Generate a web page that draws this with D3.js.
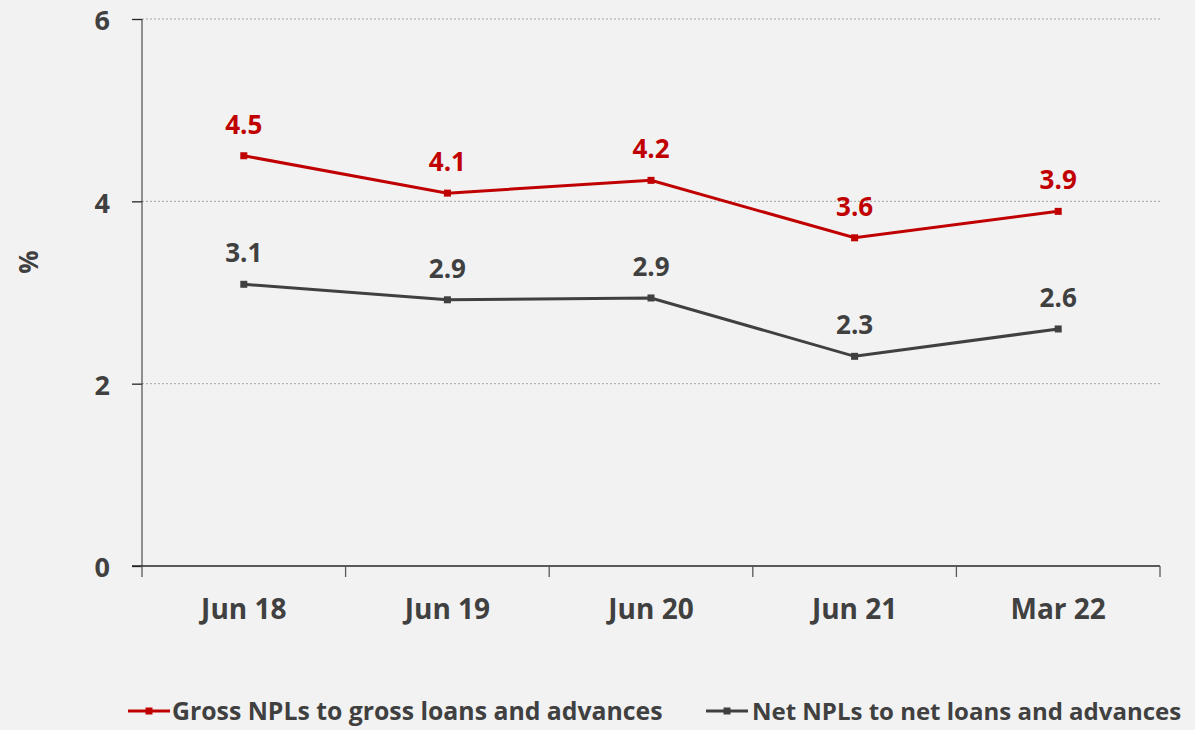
<!DOCTYPE html>
<html>
<head>
<meta charset="utf-8">
<script src="https://cdn.jsdelivr.net/npm/d3@7"></script>
<style>
  html, body { margin: 0; padding: 0; background: #f2f2f2; }
  svg { display: block; font-family: "Open Sans", sans-serif; font-weight: bold; }
</style>
</head>
<body>
<svg id="chart" width="1195" height="730"></svg>
<script>
// Periods on the category axis
const periods = ["Jun 18", "Jun 19", "Jun 20", "Jun 21", "Mar 22"];
// NPL ratios, %
const grossNpl = [4.50, 4.09, 4.23, 3.60, 3.89];
const netNpl = [3.09, 2.92, 2.94, 2.30, 2.60];
const yTicks = [0, 2, 4, 6];
const seriesNames = ["Gross NPLs to gross loans and advances", "Net NPLs to net loans and advances"];

const series = [
  { name: seriesNames[0], values: grossNpl, color: "#c00000", labelColor: "#c00000" },
  { name: seriesNames[1], values: netNpl, color: "#404040", labelColor: "#404040" }
];

const svg = d3.select("#chart");
const plot = { left: 142, right: 1160, top: 19, bottom: 566 };
const textColor = "#404040";
const font = "'Open Sans', sans-serif";

const x = d3.scaleBand().domain(periods).range([plot.left, plot.right]);
const y = d3.scaleLinear().domain([0, 6]).range([plot.bottom, plot.top]);

// gridlines
svg.append("g")
  .selectAll("line")
  .data(yTicks.filter(d => d > 0))
  .join("line")
  .attr("x1", plot.left).attr("x2", plot.right)
  .attr("y1", d => y(d)).attr("y2", d => y(d))
  .attr("stroke", "#a6a6a6").attr("stroke-width", 1)
  .attr("stroke-dasharray", "2,2");

// y axis
const yAxis = svg.append("g")
  .attr("transform", `translate(${plot.left},0)`)
  .call(d3.axisLeft(y).tickValues(yTicks).tickSize(10).tickPadding(22).tickFormat(d3.format("d")));
yAxis.select(".domain").attr("stroke", "#595959").attr("stroke-width", 1.3).attr("d", `M0,${plot.top}V${plot.bottom}`);
yAxis.selectAll(".tick line").attr("stroke", "#262626").attr("stroke-width", 1.3);
yAxis.selectAll(".tick text")
  .attr("fill", textColor).attr("font-size", 27).attr("font-weight", "bold")
  .attr("font-family", font).attr("dy", "0.4em");

// x axis with ticks at band boundaries
const xAxis = svg.append("g")
  .attr("transform", `translate(0,${plot.bottom})`)
  .call(d3.axisBottom(x).tickSize(0).tickPadding(33));
xAxis.select(".domain").attr("stroke", "#262626").attr("stroke-width", 1.3).attr("d", `M${plot.left - 10},0H${plot.right}`);
xAxis.selectAll(".tick text")
  .attr("fill", textColor).attr("font-size", 28).attr("font-weight", "bold")
  .attr("font-family", font);
const boundaries = periods.map(p => x(p)).concat([x(periods[periods.length - 1]) + x.bandwidth()]);
xAxis.append("g").selectAll("line")
  .data(boundaries)
  .join("line")
  .attr("x1", d => d).attr("x2", d => d)
  .attr("y1", 0).attr("y2", 11)
  .attr("stroke", "#595959").attr("stroke-width", 1.3);

// y axis title
svg.append("text")
  .attr("transform", "translate(38,262) rotate(-90)")
  .attr("text-anchor", "middle")
  .attr("fill", textColor).attr("font-size", 26)
  .text("%");

const cx = i => x(periods[i]) + x.bandwidth() / 2;
const line = d3.line().x((d, i) => cx(i)).y(d => y(d));
const fmt = d3.format(".1f");

series.forEach(s => {
  const g = svg.append("g");
  g.append("path")
    .attr("d", line(s.values))
    .attr("fill", "none").attr("stroke", s.color).attr("stroke-width", 3);
  g.selectAll("rect")
    .data(s.values)
    .join("rect")
    .attr("x", (d, i) => cx(i) - 3.5).attr("y", d => y(d) - 3.5)
    .attr("width", 7).attr("height", 7)
    .attr("fill", s.color);
  g.selectAll("text")
    .data(s.values)
    .join("text")
    .attr("x", (d, i) => cx(i)).attr("y", d => y(d) - 22)
    .attr("text-anchor", "middle")
    .attr("fill", s.labelColor).attr("font-size", 26)
    .text(d => fmt(d));
});

// legend
const legendItems = [
  { s: series[0], x0: 128, tx: 172, size: 24.8 },
  { s: series[1], x0: 706, tx: 752, size: 24 }
];
const ly = 711;
legendItems.forEach(({ s, x0, tx, size }) => {
  const g = svg.append("g");
  g.append("line")
    .attr("x1", x0).attr("x2", x0 + 42)
    .attr("y1", ly).attr("y2", ly)
    .attr("stroke", s.color).attr("stroke-width", 3);
  g.append("rect")
    .attr("x", x0 + 21 - 3.5).attr("y", ly - 3.5)
    .attr("width", 7).attr("height", 7)
    .attr("fill", s.color);
  g.append("text")
    .attr("x", tx).attr("y", ly + 9)
    .attr("fill", textColor).attr("font-size", size)
    .text(s.name);
});
</script>
</body>
</html>
